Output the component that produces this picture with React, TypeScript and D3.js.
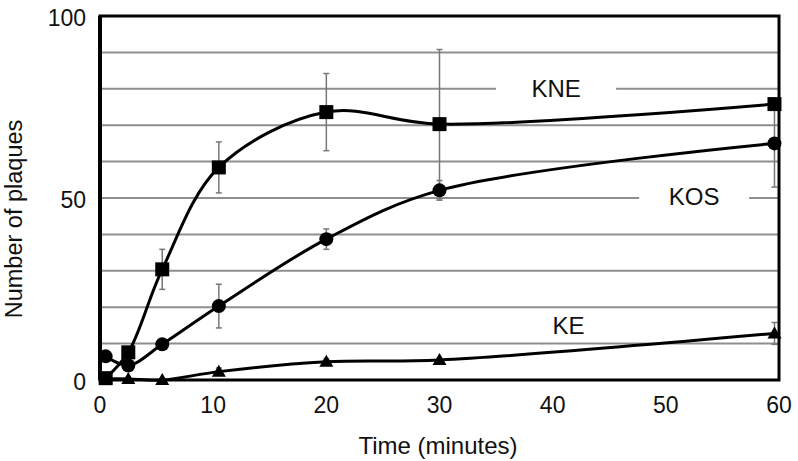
import React from "react";
import * as d3 from "d3";

const times = [0.5, 2.5, 5.5, 10.5, 20, 30, 59.6];
const kneValues = [0.5, 7.6, 30.4, 58.4, 73.6, 70.3, 75.8];
const kneErrors = [0, 1, 5.5, 7, 10.6, 20.5, 1];
const kosValues = [6.5, 4, 9.8, 20.3, 38.7, 52.1, 65];
const kosErrors = [0, 0, 0.5, 6, 2.8, 2.7, 12];
const keValues = [0.3, 0.3, 0, 2.3, 5, 5.5, 12.8];
const keErrors = [0, 0, 0, 1, 0.8, 0.5, 3];
const xTicks = [0, 10, 20, 30, 40, 50, 60];
const yTickLabels = [0, 50, 100];
const gridValues = [10, 20, 30, 40, 50, 60, 70, 80, 90];
const seriesLabels = [
  { name: "KNE", x: 40.3, y: 80, gap: 60 },
  { name: "KOS", x: 52.5, y: 50.5, gap: 55 },
  { name: "KE", x: 41.4, y: 15, gap: 0 },
];

const W = 798;
const H = 461;
const m = { left: 100, right: 19, top: 16, bottom: 81 };

export default function App() {
  const x = d3.scaleLinear().domain([0, 60]).range([m.left, W - m.right]);
  const y = d3.scaleLinear().domain([0, 100]).range([H - m.bottom, m.top]);
  const line = d3
    .line<[number, number]>()
    .x((d) => x(d[0]))
    .y((d) => y(d[1]))
    .curve(d3.curveCatmullRom.alpha(0.5));

  const series = [
    { name: "KNE", values: kneValues, errors: kneErrors, marker: "square" },
    { name: "KOS", values: kosValues, errors: kosErrors, marker: "circle" },
    { name: "KE", values: keValues, errors: keErrors, marker: "triangle" },
  ];
  const font = "'Liberation Sans', Arial, Helvetica, sans-serif";

  return (
    <svg
      width={W}
      height={H}
      style={{ position: "absolute", left: 0, top: 0, background: "#fff" }}
      fontFamily={font}
    >
      <rect x={0} y={0} width={W} height={H} fill="#fff" />
      {gridValues.map((g) => (
        <line
          key={g}
          x1={x(0)}
          x2={x(60)}
          y1={y(g)}
          y2={y(g)}
          stroke="#8f8f8f"
          strokeWidth={2}
        />
      ))}
      {seriesLabels.map((l) =>
        l.gap > 0 ? (
          <rect
            key={"gap" + l.name}
            x={x(l.x) - l.gap}
            y={y(l.y) - 12}
            width={l.gap * 2}
            height={24}
            fill="#fff"
          />
        ) : null
      )}
      {seriesLabels.map((l) => (
        <text
          key={"lab" + l.name}
          x={x(l.x)}
          y={y(l.y)}
          dy="0.36em"
          textAnchor="middle"
          fontSize={24}
          fill="#111"
        >
          {l.name}
        </text>
      ))}
      {series.map((s) => (
        <g key={"err" + s.name}>
          {s.values.map((v, i) =>
            s.errors[i] > 0.6 ? (
              <g key={i} stroke="#777" strokeWidth={1.5}>
                <line
                  x1={x(times[i])}
                  x2={x(times[i])}
                  y1={y(v + s.errors[i])}
                  y2={y(v - s.errors[i])}
                />
                <line
                  x1={x(times[i]) - 3}
                  x2={x(times[i]) + 3}
                  y1={y(v + s.errors[i])}
                  y2={y(v + s.errors[i])}
                />
                <line
                  x1={x(times[i]) - 3}
                  x2={x(times[i]) + 3}
                  y1={y(v - s.errors[i])}
                  y2={y(v - s.errors[i])}
                />
              </g>
            ) : null
          )}
        </g>
      ))}
      {series.map((s) => (
        <g key={"ser" + s.name}>
          <path
            d={line(times.map((t, i) => [t, s.values[i]] as [number, number])) || ""}
            fill="none"
            stroke="#000"
            strokeWidth={3}
          />
          {s.values.map((v, i) => {
            const cx = x(times[i]);
            const cy = y(v);
            if (s.marker === "square")
              return <rect key={i} x={cx - 7} y={cy - 7} width={14} height={14} fill="#000" />;
            if (s.marker === "circle")
              return <circle key={i} cx={cx} cy={cy} r={7} fill="#000" />;
            return (
              <path
                key={i}
                d={`M${cx},${cy - 7}L${cx + 7},${cy + 5}L${cx - 7},${cy + 5}Z`}
                fill="#000"
              />
            );
          })}
        </g>
      ))}
      <rect
        x={x(0)}
        y={y(100)}
        width={x(60) - x(0)}
        height={y(0) - y(100)}
        fill="none"
        stroke="#000"
        strokeWidth={3}
      />
      <line x1={x(0)} x2={x(0)} y1={y(100)} y2={y(0)} stroke="#000" strokeWidth={4} />
      {yTickLabels.map((t) => (
        <text key={"yt" + t} x={x(0) - 14} y={y(t) + 10} textAnchor="end" fontSize={23} fill="#111">
          {t}
        </text>
      ))}
      {xTicks.map((t) => (
        <text key={"xt" + t} x={x(t)} y={413} textAnchor="middle" fontSize={23} fill="#111">
          {t}
        </text>
      ))}
      <text x={438} y={454} textAnchor="middle" fontSize={24} fill="#111">
        Time (minutes)
      </text>
      <text
        transform={`translate(22,219) rotate(-90)`}
        textAnchor="middle"
        fontSize={23.5}
        fill="#111"
      >
        Number of plaques
      </text>
    </svg>
  );
}
